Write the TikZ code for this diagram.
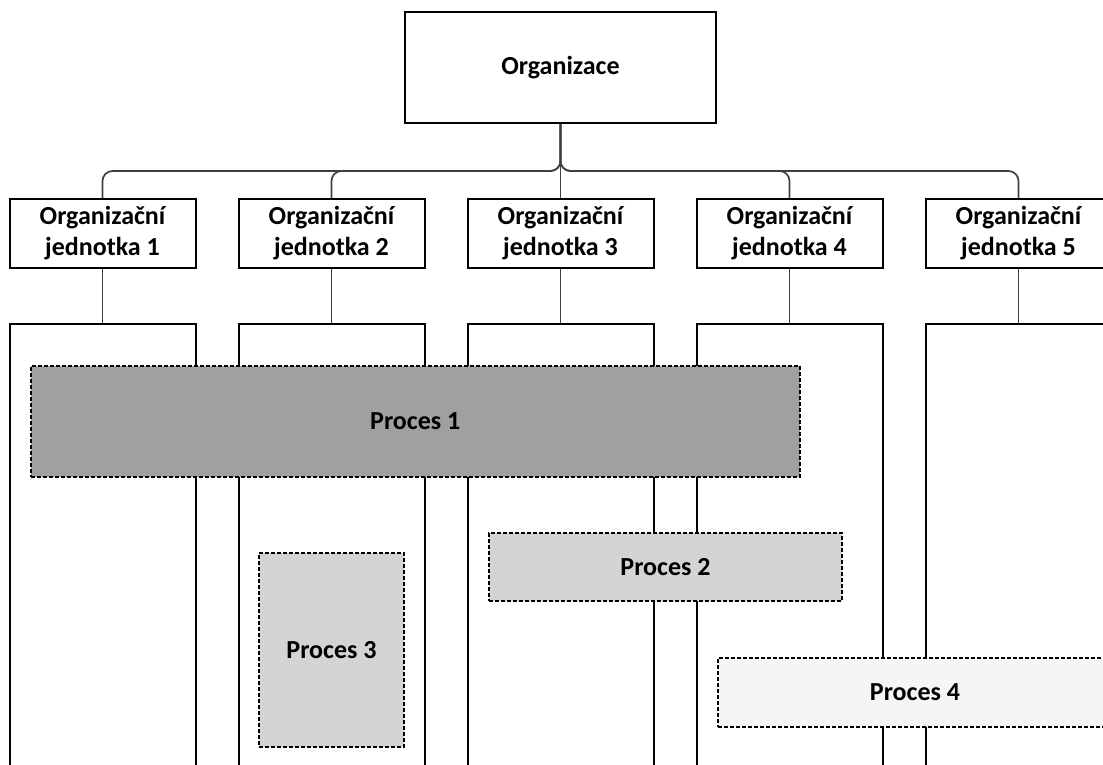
\documentclass[tikz,border=0pt]{standalone}
\usepackage{fontspec}
\setmainfont{Carlito}
\begin{document}
\begin{tikzpicture}[x=1pt,y=-1pt,
  lbl/.style={font=\bfseries\fontsize{26}{31}\selectfont, align=center},
  box/.style={lbl, draw=black, line width=2pt, fill=white, inner sep=0pt},
  orgbox/.style={box, minimum width=311pt, minimum height=111pt},
  unitbox/.style={box, minimum width=186pt, minimum height=69pt},
  column/.style={draw=black, line width=2pt, minimum width=186pt, minimum height=480pt, inner sep=0pt},
  proc/.style={lbl, draw=black, dash pattern=on 4pt off 2pt, line width=1.6pt, inner sep=0pt},
  conn/.style={draw=black!75, line width=1.7pt, rounded corners=10pt}]
\useasboundingbox (0,0) rectangle (1103,765);
\begin{scope}
\clip (0,0) rectangle (1103,765);

% top of the hierarchy
\node[orgbox] (org) at (560.5,67.5) {Organizace};

% organisational units
\foreach \i/\x in {1/102.5,2/331.5,3/560.5,4/789.5,5/1018.5}{
  \node[unitbox] (u\i) at (\x,233.5) {Organizační\\jednotka \i};
  \node[column] (c\i) at (\x,564) {};
}

% elbow connectors from the organisation to the units
\coordinate (bus) at (560.5,171);
\foreach \i in {1,2,4,5}{
  \draw[conn] (org.south) -- (bus) -| (u\i.north);
}
\draw[conn] (org.south) -- (u3.north);

% units to their columns
\foreach \i in {1,...,5}{
  \draw[conn] (u\i.south) -- (c\i.north);
}

% processes across the units
\node[proc, fill={rgb,255:red,160;green,160;blue,160}, minimum width=769pt, minimum height=111pt] (p1) at (415.3,421.2) {Proces 1};
\node[proc, fill={rgb,255:red,212;green,212;blue,212}, minimum width=353pt, minimum height=68pt] (p2) at (665.5,567) {Proces 2};
\node[proc, fill={rgb,255:red,212;green,212;blue,212}, minimum width=145pt, minimum height=194pt] (p3) at (331.5,650) {Proces 3};
\node[proc, fill={rgb,255:red,245;green,245;blue,245}, minimum width=394pt, minimum height=69pt] (p4) at (915,692.5) {Proces 4};
\end{scope}
\end{tikzpicture}
\end{document}
